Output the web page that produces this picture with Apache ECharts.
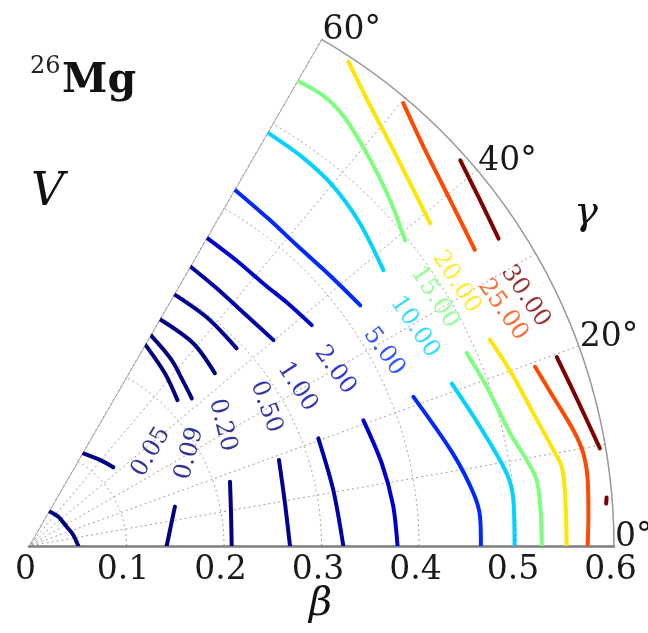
<!DOCTYPE html>
<html>
<head>
<meta charset="utf-8">
<script src="https://cdn.jsdelivr.net/npm/echarts@6/dist/echarts.min.js"></script>
<style>
  html, body { margin: 0; padding: 0; background: #fff; }
  #chart { width: 648px; height: 633px; }
</style>
</head>
<body>
<div id="chart"></div>
<script>
// Potential energy surface V(beta, gamma) of 26Mg, contour levels in MeV
const levels = [0.05, 0.09, 0.2, 0.5, 1, 2, 5, 10, 15, 20, 25, 30];

// Contour pieces per level; every point is [beta, gamma in degrees]
const v005 = [
  [[0.1183, 43], [0.1144, 50.5], [0.110, 60]],
  [[0.2135, 44.5], [0.2254, 51.8], [0.2385, 60]]
];
const v009 = [
  [[0.0506, 0], [0.0468, 14], [0.0434, 27], [0.0425, 45], [0.0412, 60]],
  [[0.1412, 0], [0.1467, 7.8], [0.155, 15.1]],
  [[0.2254, 42.2], [0.2312, 46.8], [0.2404, 52.5], [0.2497, 60]]
];
const v020 = [
  [[0.2079, 0], [0.2099, 9.2], [0.2164, 17.7]],
  [[0.2603, 42.9], [0.2676, 51], [0.2685, 60]]
];
const v050 = [
  [[0.2677, 0], [0.2662, 9.5], [0.2712, 19]],
  [[0.294, 43.6], [0.297, 52], [0.298, 60]]
];
const v100 = [
  [[0.3224, 0], [0.3173, 10.4], [0.3166, 20.4]],
  [[0.3278, 40.1], [0.325, 48], [0.327, 54], [0.331, 60]]
];
const v200 = [
  [[0.378, 0], [0.3757, 6.4], [0.3716, 13.2], [0.3664, 20.6]],
  [[0.368, 38], [0.364, 43], [0.361, 48], [0.362, 54], [0.365, 60]]
];
const v500 = [
  [[0.4635, 0], [0.4636, 3.7], [0.459, 6.8], [0.445, 12.3], [0.4229, 21.2]],
  [[0.42, 36], [0.415, 42], [0.413, 48], [0.416, 54], [0.422, 60]]
];
const v1000 = [
  [[0.498, 0], [0.499, 5.4], [0.4956, 8.65], [0.4785, 14.8], [0.4645, 21]],
  [[0.4606, 37.9], [0.4741, 44.3], [0.4835, 50], [0.4875, 55], [0.4895, 60]]
];
const v1500 = [
  [[0.526, 0], [0.526, 4.4], [0.525, 7.4], [0.518, 9.8], [0.5067, 13.2], [0.497, 19.2], [0.4905, 23.8]],
  [[0.497, 39.1], [0.5108, 43.2], [0.5224, 46.7], [0.5346, 50.3], [0.5457, 53.6], [0.5516, 56.6], [0.551, 60]]
];
const v2000 = [
  [[0.5515, 0], [0.5524, 5.6], [0.5524, 8.5], [0.5467, 10.4], [0.535, 14.7], [0.525, 20.1], [0.518, 24.1]],
  [[0.528, 38.8], [0.552, 47.4], [0.574, 52.8], [0.595, 56.6]]
];
const v2500 = [
  [[0.573, 0], [0.5747, 3.3], [0.577, 6.7], [0.5764, 9.5], [0.5708, 12], [0.559, 15.9], [0.5506, 19.5]],
  [[0.549, 33.6], [0.559, 39.4], [0.5744, 45], [0.5947, 49.8]]
];
const v3000 = [
  [[0.5935, 4.2], [0.5945, 4.8]],
  [[0.594, 9.7], [0.5825, 14.7], [0.575, 19.7]],
  [[0.5756, 33.2], [0.583, 37.5], [0.5934, 41.8]]
];
const contourPieces = [v005, v009, v020, v050, v100, v200, v500, v1000, v1500, v2000, v2500, v3000];

// Where each level's inline label sits: [beta, gamma], and its text angle
const labelBeta = [0.158, 0.190, 0.234, 0.282, 0.320, 0.362, 0.415, 0.455, 0.488, 0.515, 0.543, 0.570];
const labelGamma = [37.6, 30.0, 32.0, 30.4, 30.7, 29.9, 28.7, 29.6, 31.5, 31.7, 26.5, 26.7];
const labelAngle = [59, 75, -76, -70, -57, -54, -54, -56, -57, -57, -55, -56];

// Axis tick labels
const betaTicks = ['0', '0.1', '0.2', '0.3', '0.4', '0.5', '0.6'];
const gammaTickValues = [0, 20, 40, 60];
const betaMax = 0.6;

// matplotlib "jet" colormap
const JET = {
  r: [[0, 0], [0.35, 0], [0.66, 1], [0.89, 1], [1, 0.5]],
  g: [[0, 0], [0.125, 0], [0.375, 1], [0.64, 1], [0.91, 0], [1, 0]],
  b: [[0, 0.5], [0.11, 1], [0.34, 1], [0.65, 0], [1, 0]]
};
function interp(pts, t) {
  for (let i = 1; i < pts.length; i++) {
    if (t <= pts[i][0]) {
      const [x0, y0] = pts[i - 1], [x1, y1] = pts[i];
      return y0 + (y1 - y0) * (t - x0) / (x1 - x0);
    }
  }
  return pts[pts.length - 1][1];
}
function jet(t) {
  const c = ['r', 'g', 'b'].map(k => Math.round(255 * interp(JET[k], t)));
  return 'rgb(' + c.join(',') + ')';
}
const lo = levels[0], hi = levels[levels.length - 1];
const levelColor = levels.map(v => jet((v - lo) / (hi - lo)));

const SERIF = '"DejaVu Serif", "Liberation Serif", serif';
const TEXT = '#1a1a1a';

const series = [];
contourPieces.forEach((pieces, li) => {
  pieces.forEach(piece => {
    series.push({
      type: 'line',
      coordinateSystem: 'polar',
      data: piece,
      smooth: 0.3,
      showSymbol: false,
      silent: true,
      z: 3,
      lineStyle: { color: levelColor[li], width: 4, cap: 'round', join: 'round' }
    });
  });
});

// 60 degree edge of the sector
series.push({
  type: 'line',
  coordinateSystem: 'polar',
  data: [[0, 60], [betaMax, 60]],
  showSymbol: false,
  silent: true,
  z: 2,
  lineStyle: { color: '#9a9a9a', width: 1.5 }
});

// inline contour labels
series.push({
  type: 'scatter',
  coordinateSystem: 'polar',
  symbolSize: 0,
  silent: true,
  z: 4,
  data: levels.map((v, i) => ({
    value: [labelBeta[i], labelGamma[i]],
    name: v.toFixed(2),
    label: { rotate: labelAngle[i], color: levelColor[i] }
  })),
  label: {
    show: true,
    position: 'inside',
    formatter: p => p.name,
    fontFamily: SERIF,
    fontSize: 24
  }
});

const chart = echarts.init(document.getElementById('chart'), null, { renderer: 'canvas' });
chart.setOption({
  animation: false,
  backgroundColor: '#fff',
  polar: { center: [29, 546], radius: 585 },
  angleAxis: {
    type: 'value',
    min: 0,
    max: 60,
    interval: 10,
    startAngle: 0,
    endAngle: 60,
    clockwise: false,
    axisLine: { show: true, lineStyle: { color: '#9a9a9a', width: 1.5 } },
    axisTick: { show: false },
    axisLabel: { show: false },
    splitLine: { show: true, lineStyle: { color: '#a0a0a0', width: 1, type: [2, 3] } }
  },
  radiusAxis: {
    type: 'value',
    min: 0,
    max: betaMax,
    interval: 0.1,
    axisLine: { show: true, lineStyle: { color: '#808080', width: 2.5 } },
    axisTick: { show: false },
    axisLabel: {
      margin: -8,
      verticalAlign: 'top',
      fontFamily: SERIF,
      fontSize: 33,
      color: TEXT,
      padding: [0, 7, 0, 0],
      formatter: v => betaTicks[Math.round(v * 10)]
    },
    splitLine: { show: true, lineStyle: { color: '#a0a0a0', width: 1, type: [2, 3] } }
  },
  series: series
});

// gamma tick labels sit just outside the outer arc, left/baseline anchored there
const gammaLabels = gammaTickValues.map(g => {
  const p = chart.convertToPixel({ polarIndex: 0 }, [betaMax, g]);
  return {
    type: 'text',
    x: p[0] + 1,
    y: p[1] + 8,
    style: { text: g + '°', font: '33px ' + SERIF, fill: TEXT, align: 'left', verticalAlign: 'bottom' }
  };
});

chart.setOption({
  graphic: [
    { type: 'text', left: 30, top: 55, style: { text: '26', font: '24px ' + SERIF, fill: '#222' } },
    { type: 'text', left: 62, top: 61, style: { text: 'Mg', font: 'bold 41px ' + SERIF, fill: '#111' } },
    { type: 'text', left: 31, top: 170, style: { text: 'V', font: 'italic 46px ' + SERIF, fill: '#111' } },
    { type: 'text', left: 574, top: 194, style: { text: 'γ', font: 'italic 40px ' + SERIF, fill: '#111' } },
    { type: 'text', left: 309, top: 585, style: { text: 'β', font: 'italic 40px ' + SERIF, fill: '#111' } }
  ].concat(gammaLabels)
});
</script>
</body>
</html>
